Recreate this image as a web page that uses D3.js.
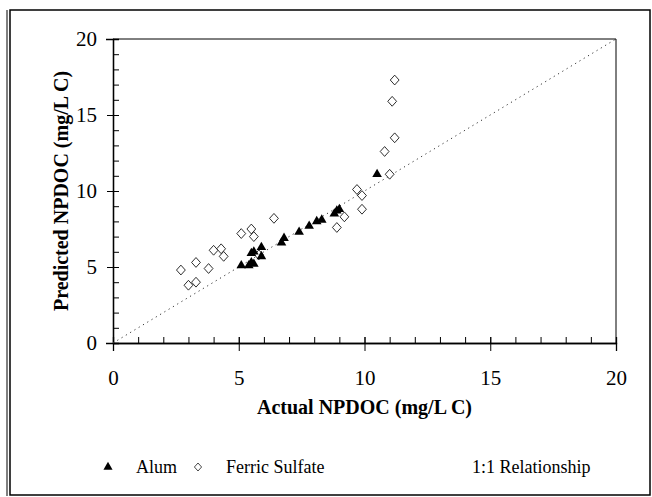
<!DOCTYPE html>
<html>
<head>
<meta charset="utf-8">
<script src="https://cdn.jsdelivr.net/npm/d3@7"></script>
<style>
  body { margin: 0; background: #fff; }
  svg text { font-family: "Times New Roman", "Liberation Serif", serif; fill: #000; }
</style>
</head>
<body>
<svg id="chart" width="652" height="497"></svg>
<script>
// Alum: actual vs predicted NPDOC (mg/L C)
const alumActual    = [5.1, 5.4, 5.5, 5.6, 5.5, 5.6, 5.9, 5.9, 6.7, 6.8, 7.4, 7.8, 8.1, 8.3, 8.8, 8.9, 9.0, 10.5];
const alumPredicted = [5.1, 5.1, 5.3, 5.2, 5.9, 6.0, 5.7, 6.3, 6.6, 6.9, 7.3, 7.7, 8.0, 8.1, 8.5, 8.7, 8.8, 11.1];

// Ferric sulfate
const ferricActual    = [2.7, 3.0, 3.3, 3.3, 3.8, 4.0, 4.3, 4.4, 5.1, 5.5, 5.6, 5.8, 6.4, 8.9, 9.2, 9.7, 9.9, 9.9, 10.8, 11.0, 11.1, 11.2, 11.2];
const ferricPredicted = [4.8, 3.8, 4.0, 5.3, 4.9, 6.1, 6.2, 5.7, 7.2, 7.5, 7.0, 5.8, 8.2, 7.6, 8.3, 10.1, 9.7, 8.8, 12.6, 11.1, 15.9, 17.3, 13.5];

const oneToOne = [0, 20];
const majorTicks = [0, 5, 10, 15, 20];
const minorTicks = d3.range(0, 21, 1);

const svg = d3.select("#chart");

// outer frame (double left edge like the original)
svg.append("rect")
    .attr("x", 10).attr("y", 10)
    .attr("width", 640).attr("height", 485)
    .attr("fill", "none").attr("stroke", "#000").attr("stroke-width", 1.5);
svg.append("line")
    .attr("x1", 7).attr("x2", 7).attr("y1", 10).attr("y2", 496)
    .attr("stroke", "#000").attr("stroke-width", 1);

const pLeft = 113, pRight = 616, pTop = 39, pBottom = 343;

const x = d3.scaleLinear().domain([0, 20]).range([pLeft, pRight]);
const y = d3.scaleLinear().domain([0, 20]).range([pBottom, pTop]);

const g = svg.append("g");

// plot box top + right
g.append("line").attr("x1", pLeft).attr("x2", pRight).attr("y1", pTop).attr("y2", pTop)
    .attr("stroke", "#000").attr("stroke-width", 1);
g.append("line").attr("x1", pRight).attr("x2", pRight).attr("y1", pTop).attr("y2", pBottom)
    .attr("stroke", "#000").attr("stroke-width", 1);

// minor ticks inside
const xAxis = d3.axisBottom(x).tickValues(minorTicks).tickSize(-6).tickFormat("");
const yAxis = d3.axisLeft(y).tickValues(minorTicks).tickSize(-6).tickFormat("");

const gx = g.append("g").attr("transform", "translate(0," + pBottom + ")").call(xAxis);
const gy = g.append("g").attr("transform", "translate(" + pLeft + ",0)").call(yAxis);

// major ticks cross the axes, with labels
const gxMaj = g.append("g").attr("transform", "translate(0," + pBottom + ")")
    .call(d3.axisBottom(x).tickValues(majorTicks).tickSize(8).tickPadding(19));
const gyMaj = g.append("g").attr("transform", "translate(" + pLeft + ",0)")
    .call(d3.axisLeft(y).tickValues(majorTicks).tickSize(7).tickPadding(9));

[gx, gy, gxMaj, gyMaj].forEach(a => {
  a.attr("font-family", null);
  a.select(".domain").attr("stroke", "#000").attr("stroke-width", 1.3);
  a.selectAll(".tick line").attr("stroke", "#000").attr("stroke-width", 1);
  a.selectAll("text").style("font-size", "21px").attr("fill", "#000");
});
gxMaj.selectAll(".tick line").attr("y1", -6);
gyMaj.selectAll(".tick line").attr("x1", 6).attr("x2", -6);

// 1:1 dotted line
g.append("line")
    .attr("x1", x(oneToOne[0])).attr("y1", y(oneToOne[0]))
    .attr("x2", x(oneToOne[1])).attr("y2", y(oneToOne[1]))
    .attr("stroke", "#333").attr("stroke-width", 1)
    .attr("stroke-dasharray", "1.2,3.8");

const tri = d3.symbol().type(d3.symbolTriangle).size(40);
const dia = d3.symbol().type(d3.symbolSquare).size(48);

// ferric sulfate - open diamonds
g.append("g").selectAll("path")
  .data(ferricActual.map((v, i) => [v, ferricPredicted[i]]))
  .enter().append("path")
    .attr("d", dia)
    .attr("transform", d => "translate(" + x(d[0]) + "," + y(d[1]) + ") scale(0.9,1) rotate(45)")
    .attr("fill", "#fff").attr("stroke", "#000").attr("stroke-width", 0.8);

// alum - filled triangles
g.append("g").selectAll("path")
  .data(alumActual.map((v, i) => [v, alumPredicted[i]]))
  .enter().append("path")
    .attr("d", tri)
    .attr("transform", d => "translate(" + x(d[0]) + "," + y(d[1]) + ")")
    .attr("fill", "#000");

// axis titles
svg.append("text")
    .attr("x", (pLeft + pRight) / 2).attr("y", 414)
    .attr("text-anchor", "middle")
    .style("font-size", "20px").style("font-weight", "bold")
    .text("Actual NPDOC (mg/L C)");

svg.append("text")
    .attr("transform", "translate(68," + (pTop + pBottom) / 2 + ") rotate(-90)")
    .attr("text-anchor", "middle")
    .style("font-size", "20px").style("font-weight", "bold")
    .text("Predicted NPDOC (mg/L C)");

// legend
const leg = svg.append("g").attr("transform", "translate(0,473)");
leg.append("path").attr("d", d3.symbol().type(d3.symbolTriangle).size(36))
    .attr("transform", "translate(108,-6)").attr("fill", "#000");
leg.append("text").attr("x", 136).attr("y", 0).style("font-size", "18px").text("Alum");
leg.append("path").attr("d", d3.symbol().type(d3.symbolSquare).size(32))
    .attr("transform", "translate(198,-6) scale(0.9,1) rotate(45)")
    .attr("fill", "#fff").attr("stroke", "#000").attr("stroke-width", 0.7);
leg.append("text").attr("x", 226).attr("y", 0).style("font-size", "18px").text("Ferric Sulfate");
leg.append("text").attr("x", 472).attr("y", 0).style("font-size", "18px").text("1:1 Relationship");
</script>
</body>
</html>
